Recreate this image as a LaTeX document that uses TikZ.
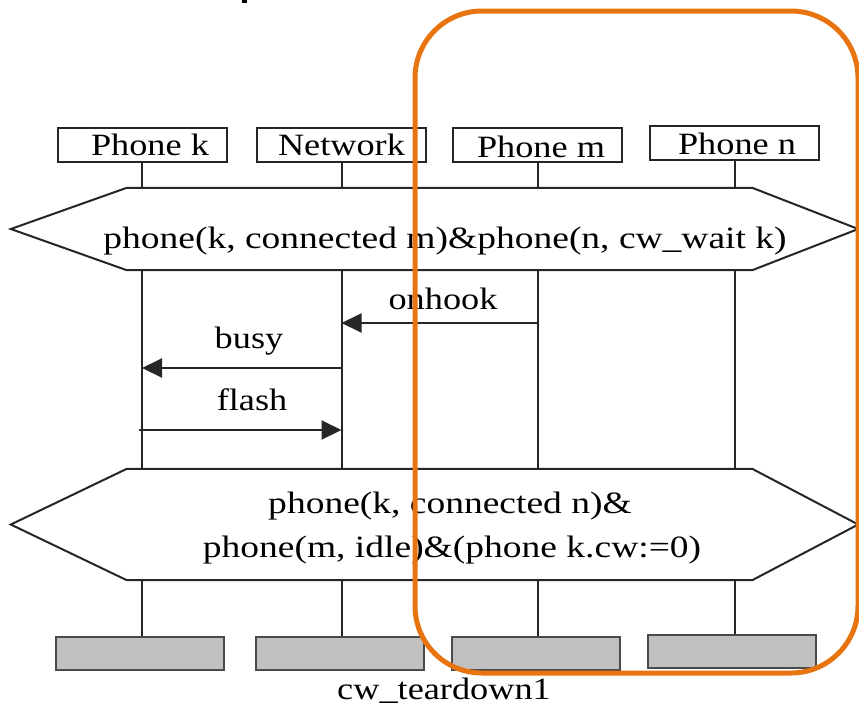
\documentclass[tikz,border=0pt]{standalone}
\usepackage{fontspec}
\setmainfont{Liberation Serif}
\usetikzlibrary{arrows.meta}
\definecolor{ink}{HTML}{262626}
\definecolor{endgray}{HTML}{C0C0C0}
\definecolor{endline}{HTML}{4A4A4A}
\definecolor{hlorange}{HTML}{E8740F}
% slightly widened lettering
\newcommand{\wtxt}[1]{\scalebox{1.17}[1]{#1}}
\newcommand{\ctxt}[1]{\scalebox{1.21}[1]{#1}}

\begin{document}
\begin{tikzpicture}[x=1pt,y=-1pt,
  headbox/.style={draw=ink, line width=2pt, minimum width=169pt, minimum height=34pt, inner sep=0pt},
  endbox/.style={draw=endline, fill=endgray, line width=2pt, minimum width=168pt, minimum height=33pt, inner sep=0pt},
  lbl/.style={anchor=base, inner sep=0pt, text=black, font=\fontsize{31}{37}\selectfont},
  life/.style={draw=ink, line width=2pt},
  msg/.style={draw=ink, line width=2pt, -{Triangle[length=20pt,width=19pt]}},
  cond/.style={draw=ink, line width=2pt, line join=miter},
  condarea/.style={minimum width=625pt, inner sep=0pt},
  focus/.style={draw=hlorange, line width=5pt, rounded corners=67pt}]

\useasboundingbox (0,0) rectangle (859,707);

% instance heads
\node[headbox] (hk)   at (142,144.5)   {};
\node[headbox] (hnet) at (341.5,144.5) {};
\node[headbox] (hm)   at (537.5,145)   {};
\node[headbox] (hn)   at (734.5,143)   {};
\node[lbl] (tk)   at (150,155)   {\wtxt{Phone k}};
\node[lbl] (tnet) at (341.5,155) {\wtxt{Network}};
\node[lbl] (tm)   at (541,157)   {\wtxt{Phone m}};
\node[lbl] (tn)   at (737,154)   {\wtxt{Phone n}};

% instance ends
\node[endbox] (ek)   at (140,653)   {};
\node[endbox] (enet) at (339.5,653) {};
\node[endbox] (em)   at (536,653)   {};
\node[endbox] (en)   at (732,651)   {};

% condition areas
\node[condarea, minimum height=82pt]  (c1) at (439.5,229)   {};
\node[condarea, minimum height=111pt] (c2) at (439.5,524.5) {};
\draw[cond] (c1.north west) -- (c1.north east) -- ([xshift=106pt]c1.east)
  -- (c1.south east) -- (c1.south west) -- ([xshift=-116pt]c1.west) -- cycle;
\draw[cond] (c2.north west) -- (c2.north east) -- ([xshift=106pt]c2.east)
  -- (c2.south east) -- (c2.south west) -- ([xshift=-116pt]c2.west) -- cycle;
\node[lbl] (c1t)  at (445,248) {\ctxt{phone(k, connected m)\&phone(n, cw\_wait k)}};
\node[lbl] (c2ta) at (450,513) {\ctxt{phone(k, connected n)\&}};
\node[lbl] (c2tb) at (452,557) {\ctxt{phone(m, idle)\&(phone k.cw:=0)}};

% lifelines
\foreach \h/\e in {hk/ek, hnet/enet, hm/em, hn/en}{
  \draw[life] (\h.south) -- (\h.south |- c1.north);
  \draw[life] (\h.south |- c1.south) -- (\h.south |- c2.north);
  \draw[life] (\h.south |- c2.south) -- (\h.south |- \e.north);
}

% messages
\coordinate (yon) at (0,323);
\coordinate (ybusy) at (0,368);
\coordinate (yflash) at (0,430);
\draw[msg] (hm.south |- yon) -- (hnet.south |- yon);
\draw[msg] (hnet.south |- ybusy) -- (hk.south |- ybusy);
\draw[msg] ([xshift=-3pt]hk.south |- yflash) -- (hnet.south |- yflash);
\node[lbl] (lon)    at (443,309) {\wtxt{onhook}};
\node[lbl] (lbusy)  at (249,348) {\wtxt{busy}};
\node[lbl] (lflash) at (252,410) {\wtxt{flash}};

% chart name
\node[lbl] (cname) at (444,699) {\wtxt{cw\_teardown1}};

% clipped mark at the top edge
\fill[black] (242,0) rectangle (247,2.5);

% highlight frame
\draw[focus] (415,11) rectangle (858,673);
\end{tikzpicture}
\end{document}
